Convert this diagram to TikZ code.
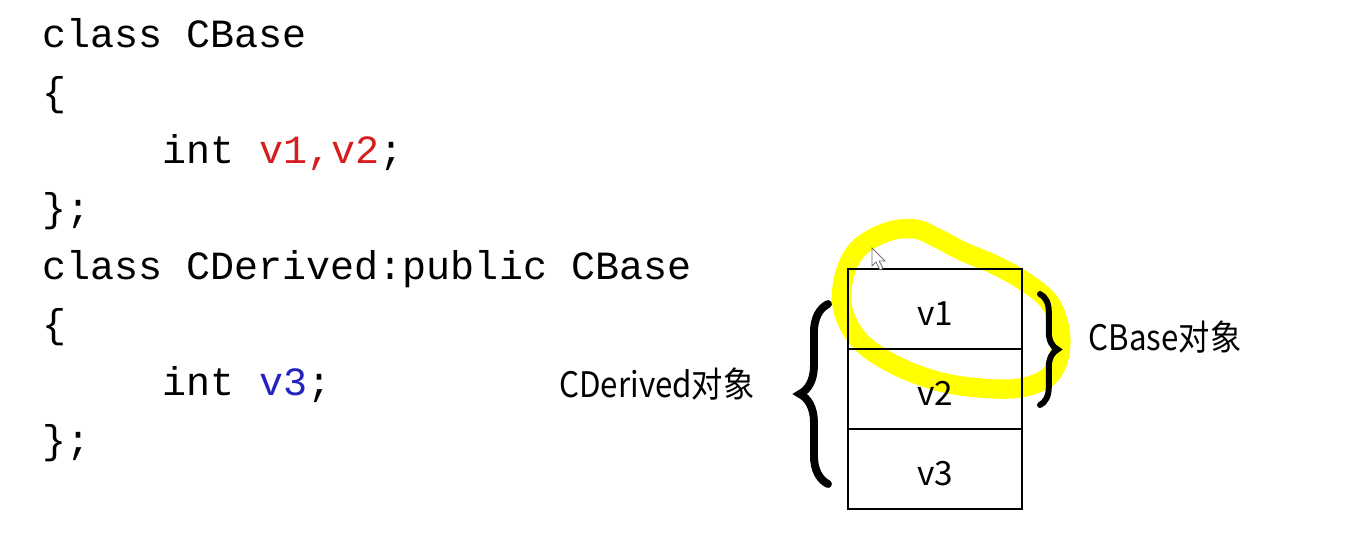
\documentclass[tikz,border=0pt]{standalone}
\usepackage{fontspec}
\usetikzlibrary{positioning,decorations.pathreplacing}
\newfontfamily\codefont{Liberation Mono}
\newfontfamily\cjkfont{Noto Sans CJK SC}
\definecolor{codered}{RGB}{215,30,30}
\definecolor{codeblue}{RGB}{35,35,190}
\definecolor{marker}{RGB}{255,255,0}
\def\narrow#1{\scalebox{0.89}[1]{#1}}

\begin{document}
\begin{tikzpicture}[x=0.02cm, y=-0.02cm,
		code/.style={anchor=base west, inner sep=0pt, font=\codefont\fontsize{22.8}{24}\selectfont},
		memrow/.style={draw, line width=1pt, minimum width=3.48cm, minimum height=1.6cm, inner sep=0pt, outer sep=0pt, text height=0.66cm, text depth=0pt, font=\cjkfont\fontsize{19}{20}\selectfont},
		tag/.style={inner sep=0pt, font=\cjkfont\fontsize{20}{22}\selectfont},
		brace/.style={decorate, line width=#1, line cap=round}]
		%%%%% START %%%%%
		
		\useasboundingbox[fill=white] (0, 0) rectangle (1352, 542);
		
		\node[code] (clsbase) at (42, 47) {class CBase};
		\node[code] (openbase) at (42, 105) {\{};
		\node[code] (membase) at (162.5, 163) {int {\color{codered}v1,v2};};
		\node[code] (closebase) at (42, 221) {\};};
		\node[code] (clsderived) at (42, 279) {class CDerived:public CBase};
		\node[code] (openderived) at (42, 337) {\{};
		\node[code] (memderived) at (162.5, 395) {int {\color{codeblue}v3};};
		\node[code] (closederived) at (42, 453) {\};};
		
		% highlighter ring round v1
		\draw[marker, line width=11pt, line cap=round] plot[smooth cycle, tension=0.6] coordinates {
			(937, 238) (962, 251) (995, 265) (1027, 283) (1050, 303) (1060, 330)
			(1059, 357) (1048, 377) (1020, 388) (980, 388) (937, 381) (893, 364)
			(860, 341) (843, 310) (844, 277) (858, 249) (887, 232) (915, 229)};
		
		\node[memrow] (rowa) at (935, 309) {v1};
		\node[memrow, below=0pt of rowa] (rowb) {v2};
		\node[memrow, below=0pt of rowb] (rowc) {v3};
		
		\coordinate (lbtop) at (828, 304);
		\coordinate (lbbot) at (828, 484);
		\draw[brace=4.5pt, decoration={brace, amplitude=16pt}] (lbbot) -- (lbtop);
		\coordinate (rbtop) at (1040, 294);
		\coordinate (rbbot) at (1040, 405);
		\draw[brace=3.4pt, decoration={brace, amplitude=10pt}] (rbtop) -- (rbbot);
		
		\node[tag] (derivedtag) at (657, 384) {\narrow{CDerived对象}};
		\node[tag] (basetag) at (1165, 337) {\narrow{CBase对象}};
		
		% mouse pointer
		\draw[fill=white, draw=black!55, line width=0.5pt] (872, 248) -- (872, 266) -- (876, 262) -- (880, 270) -- (883, 268) -- (879, 261) -- (885, 261) -- cycle;
		
		%%%%% END %%%%%
\end{tikzpicture}
\end{document}
